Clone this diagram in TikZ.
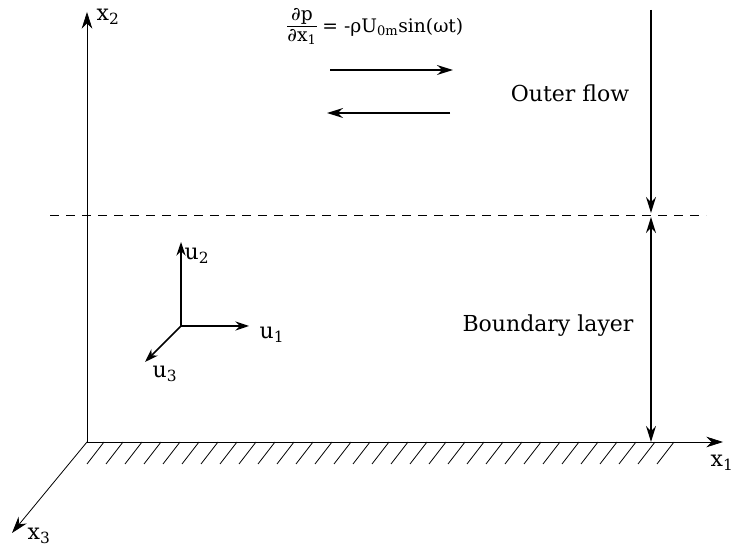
\documentclass[tikz,border=0pt]{standalone}
\usepackage{fontspec}
\setmainfont{DejaVu Serif}
\usetikzlibrary{positioning,arrows.meta}
\tikzset{
  axis/.style={-{Stealth[length=4.4mm,width=2.8mm]},semithick},
  flow/.style={-{Stealth[length=4.2mm,width=2.6mm]},line width=1.4pt},
  layer/.style={-{Stealth[length=4.2mm,width=2.6mm]},line width=1.4pt},
  unitvec/.style={-{Stealth[length=3.6mm,width=2.4mm]},line width=1.1pt},
  hatch/.style={line width=0.6pt},
  lbl/.style={font=\fontsize{16.5}{19}\selectfont,inner sep=1pt},
  small/.style={font=\fontsize{14}{16}\selectfont,inner sep=1pt}
}

\begin{document}
\begin{tikzpicture}[x=0.75pt,y=-0.75pt]
  \useasboundingbox (0,0) rectangle (732,548);
  % axes
  \coordinate (O) at (87,442);
  \coordinate (x1end) at (723,442);
  \coordinate (x2end) at (87,12);
  \coordinate (x3end) at (12,533);
  \draw[axis] (O) -- (x1end);
  \draw[axis] (O) -- (x2end);
  \draw[axis] (O) -- (x3end);
  \node[lbl,anchor=west] (x1lbl) at (709,463) {x\textsubscript{1}};
  \node[lbl,anchor=west] (x2lbl) at (95,17) {x\textsubscript{2}};
  \node[lbl,anchor=west] (x3lbl) at (26,536) {x\textsubscript{3}};
  % wall
  \foreach \i in {0,...,30}
    \draw[hatch] (87+19*\i,464) -- ++(17,-22);
  % edge of the boundary layer
  \coordinate (dashL) at (50,215);
  \coordinate (dashR) at (706,215);
  \draw[dashed,thin,dash pattern=on 7pt off 5pt] (dashL) -- (dashR);
  % thickness arrows
  \coordinate (top) at (651,10);
  \coordinate (edgeU) at (651,213);
  \coordinate (edgeD) at (651,217);
  \draw[layer] (top) -- (edgeU);
  \draw[layer,{Stealth[length=4.2mm,width=2.6mm]}-{Stealth[length=4.2mm,width=2.6mm]}] (edgeD) -- (O -| top);
  \node[lbl] (outer) at (570,93) {Outer flow};
  \node[lbl] (bl) at (548,326) {Boundary layer};
  % pressure gradient
  \node[small] (dpdx) at (302,27) {\begin{tabular}{@{}c@{}}∂p\\[-1pt]\hline ∂x\textsubscript{1}\end{tabular}};
  \node[small,right=2pt of dpdx] (rhs) {= -ρU\textsubscript{0m}sin(ωt)};
  \coordinate (fwdA) at (330,70);
  \coordinate (fwdB) at (453,70);
  \coordinate (bwdA) at (450,113);
  \coordinate (bwdB) at (327,113);
  \draw[flow] (fwdA) -- (fwdB);
  \draw[flow] (bwdA) -- (bwdB);
  % velocity components
  \coordinate (u0) at (181,326);
  \coordinate (u1end) at (249,326);
  \coordinate (u2end) at (181,242);
  \coordinate (u3end) at (145,362);
  \draw[unitvec] (u0) -- (u1end);
  \draw[unitvec] (u0) -- (u2end);
  \draw[unitvec] (u0) -- (u3end);
  \node[lbl,anchor=west] (u1lbl) at (258,335) {u\textsubscript{1}};
  \node[lbl,anchor=west] (u2lbl) at (183,256) {u\textsubscript{2}};
  \node[lbl,anchor=west] (u3lbl) at (151,374) {u\textsubscript{3}};
\end{tikzpicture}
\end{document}
